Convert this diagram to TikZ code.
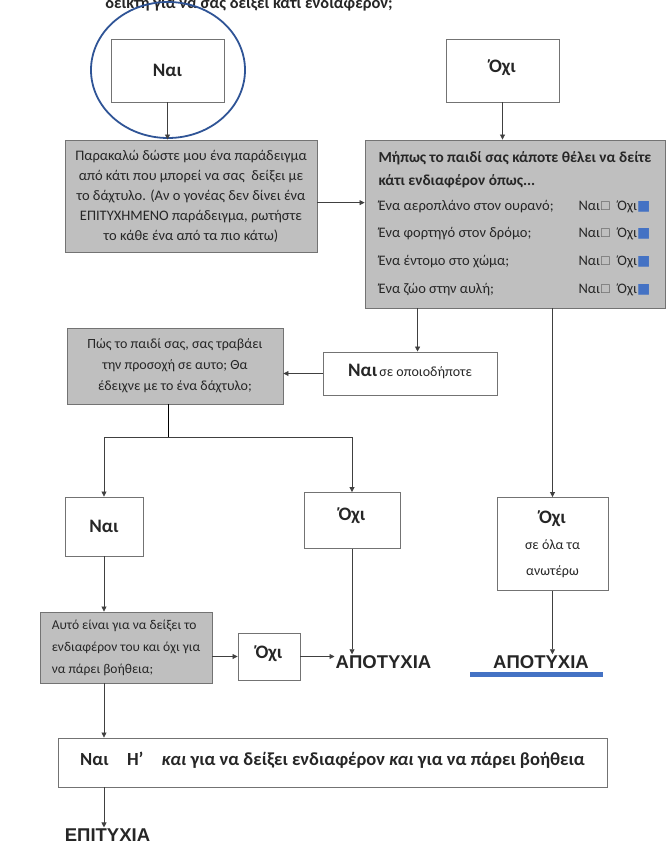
\documentclass[tikz,border=0pt]{standalone}
\usepackage{fontspec}
\setmainfont{Carlito}
\newfontfamily\arialfont{Liberation Sans}
\newfontfamily\symbfont{DejaVu Sans}
\usepackage{tikz}
\usetikzlibrary{arrows.meta,positioning,calc}

\definecolor{ringblue}{RGB}{47,84,150}
\definecolor{tickblue}{RGB}{68,114,196}
\definecolor{boxgray}{RGB}{191,191,191}

\newcommand{\chkno}{{\color{black!60}\symbfont\fontsize{12}{12}\selectfont\char"2610}}
\newcommand{\chkyes}{{\color{tickblue}\symbfont\fontsize{14}{14}\selectfont\char"25A0}}

\begin{document}
\begin{tikzpicture}[x=1pt, y=-1pt,
    every node/.style={text=black!85},
    graybox/.style={draw=black!55, fill=boxgray, line width=0.9pt},
    whitebox/.style={draw=black!55, fill=white, line width=0.9pt},
    answer/.style={font=\bfseries\fontsize{19}{22}\selectfont},
    outcome/.style={font=\arialfont\bfseries\fontsize{18.5}{20}\selectfont, inner sep=1pt},
    flow/.style={draw=black!75, line width=0.8pt, -{Triangle[length=5pt, width=5pt]}}]
    \useasboundingbox (0,0) rectangle (671,849);

    % question cut off by the page
    \node[anchor=base, font=\bfseries\fontsize{16.5}{18}\selectfont] (topnote) at (249,8) {δείκτη για να σας δείξει κάτι ενδιαφέρον;};

    % first answers
    \node[whitebox, answer, minimum width=113pt, minimum height=63pt] (nai1) at (167.5,70.5) {Ναι};
    \node[whitebox, answer, minimum width=113pt, minimum height=63pt, text depth=8pt] (oxi1) at (502.5,70.5) {Όχι};
    \draw[ringblue, line width=1.8pt] (168,70) ellipse [x radius=77pt, y radius=68pt];

    \node[graybox, minimum width=252pt, minimum height=112pt, align=center, font=\fontsize{14.5}{20}\selectfont] (askex) at (191,196)
        {Παρακαλώ δώστε μου ένα παράδειγμα\\ από κάτι που μπορεί να σας\ \ δείξει με\\ το δάχτυλο. (Αν ο γονέας δεν δίνει ένα\\ ΕΠΙΤΥΧΗΜΕΝΟ παράδειγμα, ρωτήστε\\ το κάθε ένα από τα πιο κάτω)};
    \node[graybox, minimum width=300pt, minimum height=168pt, align=left, font=\fontsize{14.5}{23}\selectfont] (askeach) at (515,224)
        {{\bfseries\fontsize{15.3}{23}\selectfont Μήπως το παιδί σας κάποτε θέλει να δείτε}\\
         {\bfseries\fontsize{15.3}{23}\selectfont κάτι ενδιαφέρον όπως...}\\[2pt]
         \makebox[200pt][l]{Ένα αεροπλάνο στον ουρανό;}Ναι\chkno\ \ Όχι\chkyes\\[4pt]
         \makebox[200pt][l]{Ένα φορτηγό στον δρόμο;}Ναι\chkno\ \ Όχι\chkyes\\[5pt]
         \makebox[200pt][l]{Ένα έντομο στο χώμα;}Ναι\chkno\ \ Όχι\chkyes\\[5pt]
         \makebox[200pt][l]{Ένα ζώο στην αυλή;}Ναι\chkno\ \ Όχι\chkyes};

    \draw[flow] (nai1.south) -- (nai1.south |- askex.north);
    \draw[flow] (oxi1.south) -- (oxi1.south |- askeach.north);
    \draw[flow] (askex.-3.5) -- (askex.-3.5 -| askeach.west);

    % second level
    \node[whitebox, minimum width=174pt, minimum height=43pt, text depth=6pt] (anyyes) at (410,373.5)
        {{\bfseries\fontsize{19}{22}\selectfont Ναι} {\fontsize{14}{16}\selectfont σε οποιοδήποτε}};
    \node[graybox, minimum width=216pt, minimum height=76pt, align=center, font=\fontsize{14}{21}\selectfont] (askhow) at (175,366)
        {Πώς το παιδί σας, σας τραβάει\\ την προσοχή σε αυτο; Θα\\ έδειχνε με το ένα δάχτυλο;};
    \node[whitebox, minimum width=111pt, minimum height=93pt, align=center, font=\fontsize{14}{26}\selectfont] (notall) at (552.5,544)
        {{\bfseries\fontsize{19}{22}\selectfont Όχι}\\ σε όλα τα\\ ανωτέρω};

    \draw[flow] ([xshift=53pt]askeach.south west) -- ([xshift=53pt]askeach.south west |- anyyes.north);
    \draw[flow] (anyyes.west) -- (anyyes.west -| askhow.east);
    \draw[flow] (askeach.south -| notall.north) -- (notall.north);

    % third level
    \node[whitebox, answer, minimum width=78pt, minimum height=59pt] (nai2) at (104,526.5) {Ναι};
    \node[whitebox, answer, minimum width=96pt, minimum height=56pt, text depth=12pt] (oxi2) at (352,520.5) {Όχι};
    \draw (askhow.south -| 168,0) -- ++(0,33) coordinate (split);
    \draw[flow] (split) -| (nai2.north);
    \draw[flow] (split) -| (oxi2.north);

    \node[graybox, minimum width=172pt, minimum height=71pt, align=left, font=\fontsize{13.5}{22}\selectfont] (askwhy) at (126,647.5)
        {Αυτό είναι για να δείξει το\\ ενδιαφέρον του και όχι για\\ να πάρει βοήθεια;};
    \node[whitebox, answer, minimum width=62pt, minimum height=47pt, text depth=8pt] (oxi3) at (269,656.5) {Όχι};
    \node[outcome] (fail1) at (383.5,662) {ΑΠΟΤΥΧΙΑ};
    \node[outcome] (fail2) at (541,662) {ΑΠΟΤΥΧΙΑ};

    \draw[flow] (nai2.south) -- (nai2.south |- askwhy.north);
    \draw[flow] (oxi3.west -| askwhy.east) -- (oxi3.west);
    \draw[flow] (oxi3.east) -- (oxi3.east -| fail1.west);
    \draw[flow] (oxi2.south) -- (oxi2.south |- fail1.north);
    \draw[flow] (notall.south) -- (notall.south |- fail2.north);
    \draw[tickblue, line width=5pt] ([xshift=-22pt, yshift=-5pt]fail2.south west) -- ([xshift=13pt, yshift=-5pt]fail2.south east);

    % last step
    \node[whitebox, minimum width=549pt, minimum height=49pt, text depth=8pt, font=\bfseries\fontsize{18.5}{20}\selectfont] (both) at (332.5,762.5)
        {Ναι\quad Η’\quad \textit{και} για να δείξει ενδιαφέρον \textit{και} για να πάρει βοήθεια};
    \node[outcome] (success) at (107.5,835) {ΕΠΙΤΥΧΙΑ};

    \draw[flow] (nai2.south |- askwhy.south) -- (nai2.south |- both.north);
    \draw[flow] (nai2.south |- both.south) -- (nai2.south |- success.north);
\end{tikzpicture}
\end{document}
